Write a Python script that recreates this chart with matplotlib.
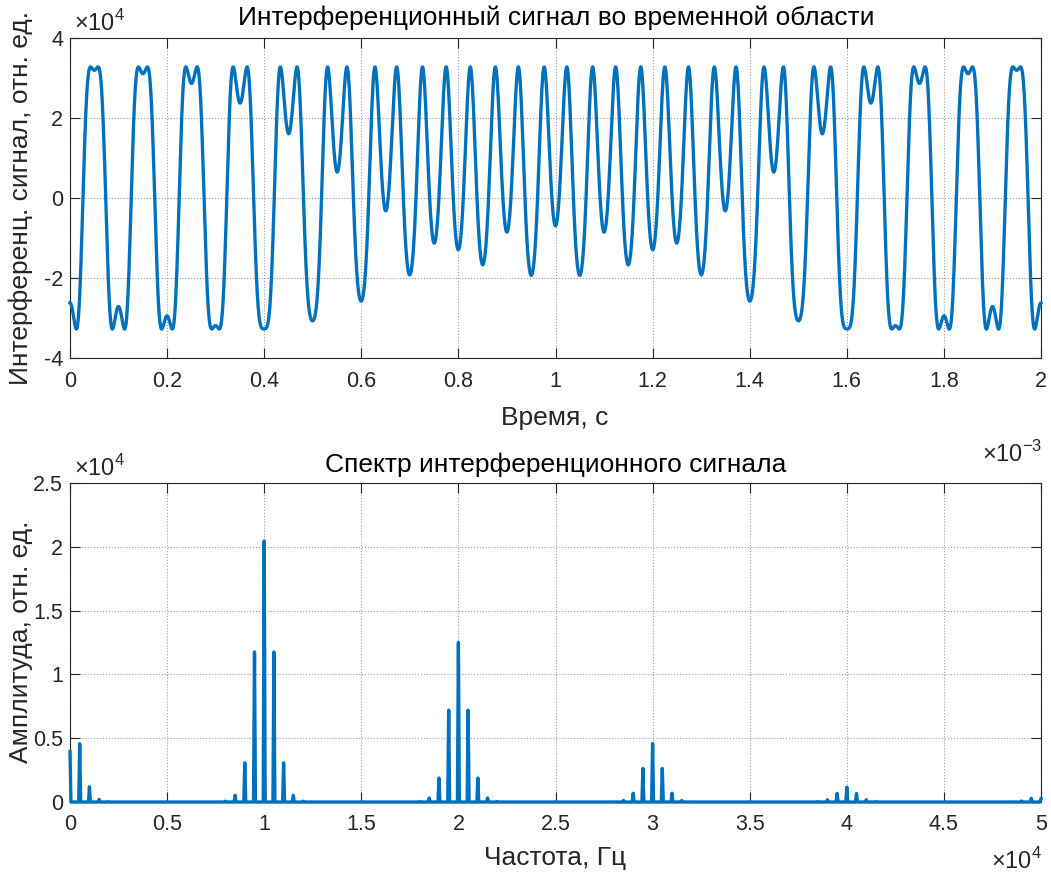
import numpy as np
import matplotlib
matplotlib.use("Agg")
import matplotlib.pyplot as plt
from matplotlib.ticker import FuncFormatter

plt.rcParams['font.family'] = ['Liberation Sans', 'DejaVu Sans']
plt.rcParams['mathtext.fontset'] = 'custom'
plt.rcParams['mathtext.rm'] = 'Liberation Sans'

# signal parameters (peak level, harmonic spacing, sidebands)
amp = 32767          # peak value, отн. ед.
f_carrier = 1e4      # Гц, spacing of harmonic groups
depth_carrier = 2.0  # rad
f_slow = 500         # Гц, sideband spacing
depth_slow = 1.0     # rad
phase0 = np.pi / 4

fs = 1e5             # sampling rate, spectrum ends at fs/2
t_view = 2e-3        # shown part of the record, s
t_spec = 20e-3       # record used for the spectrum, s

time_ticks = [0, 0.2e-3, 0.4e-3, 0.6e-3, 0.8e-3, 1.0e-3, 1.2e-3, 1.4e-3, 1.6e-3, 1.8e-3, 2.0e-3]
sig_ticks = [-4e4, -2e4, 0, 2e4, 4e4]
freq_ticks = [0, 5e3, 1e4, 1.5e4, 2e4, 2.5e4, 3e4, 3.5e4, 4e4, 4.5e4, 5e4]
amp_ticks = [0, 0.5e4, 1e4, 1.5e4, 2e4, 2.5e4]

title_top = "Интерференционный сигнал во временной области"
title_bottom = "Спектр интерференционного сигнала"
xlabel_top = "Время, с"
ylabel_top = "Интерференц. сигнал, отн. ед."
xlabel_bottom = "Частота, Гц"
ylabel_bottom = "Амплитуда, отн. ед."


def signal(t):
    return amp * np.cos(depth_carrier * np.cos(2 * np.pi * f_carrier * t)
                        + depth_slow * np.cos(2 * np.pi * f_slow * t) + phase0)


t = np.linspace(0, t_view, 4001)
s = signal(t)

n = int(round(fs * t_spec))
x = signal(np.arange(n) / fs)
spec = np.abs(np.fft.fft(x)) / n
spec = spec[:n // 2 + 1]
spec[1:-1] *= 2
freq = fs * np.arange(n // 2 + 1) / n

W, H = 1051, 877
line_color = '#0072BD'
ax_color = '#262626'
TICK = 15.5
LAB = 19
TITLE = 19


def style(ax):
    ax.tick_params(direction='in', top=True, right=True, length=7,
                   width=0.8, labelsize=TICK, colors=ax_color)
    ax.tick_params(axis='x', pad=9)
    ax.tick_params(axis='y', pad=5)
    for sp in ax.spines.values():
        sp.set_color(ax_color)
        sp.set_linewidth(0.8)
    ax.grid(True, linestyle=':', color='#9a9a9a', linewidth=0.8)
    ax.set_axisbelow(True)


def ftext(x, y, txt, **kw):
    # position in pixels from the top-left corner
    return fig.text(x / W, 1 - y / H, txt, **kw)


fig = plt.figure(figsize=(W / 100, H / 100), dpi=100)
ax1 = fig.add_axes([70 / W, 1 - 358 / H, 971 / W, 320 / H])
ax2 = fig.add_axes([70 / W, 1 - 802 / H, 971 / W, 319 / H])

ax1.plot(t, s, color=line_color, lw=2.4, clip_on=False, zorder=3)
ax1.set_xlim(0, t_view)
ax1.set_ylim(-4e4, 4e4)
ax1.set_xticks(time_ticks)
ax1.set_yticks(sig_ticks)
ax1.xaxis.set_major_formatter(FuncFormatter(lambda v, p: f'{v * 1e3:g}'))
ax1.yaxis.set_major_formatter(FuncFormatter(lambda v, p: f'{v / 1e4:g}'))
style(ax1)

ax2.plot(freq, spec, color=line_color, lw=2.4, clip_on=False, zorder=3)
ax2.set_xlim(0, fs / 2)
ax2.set_ylim(0, 2.5e4)
ax2.set_xticks(freq_ticks)
ax2.set_yticks(amp_ticks)
ax2.xaxis.set_major_formatter(FuncFormatter(lambda v, p: f'{v / 1e4:g}'))
ax2.yaxis.set_major_formatter(FuncFormatter(lambda v, p: f'{v / 1e4:g}'))
style(ax2)

ftext(556, 18, title_top, fontsize=TITLE, color='black', ha='center', va='center')
ftext(556, 465, title_bottom, fontsize=TITLE, color='black', ha='center', va='center')
ftext(555, 418, xlabel_top, fontsize=LAB, color=ax_color, ha='center', va='center')
ftext(555, 858, xlabel_bottom, fontsize=LAB, color=ax_color, ha='center', va='center')
ftext(21, 198, ylabel_top, fontsize=LAB, color=ax_color, ha='center', va='center', rotation=90)
ftext(21, 642, ylabel_bottom, fontsize=LAB, color=ax_color, ha='center', va='center', rotation=90)

ftext(74, 31, r'$\times10^{4}$', fontsize=17, color=ax_color, ha='left', va='baseline')
ftext(74, 476, r'$\times10^{4}$', fontsize=17, color=ax_color, ha='left', va='baseline')
ftext(1042, 462, r'$\times10^{-3}$', fontsize=17, color=ax_color, ha='right', va='baseline')
ftext(1042, 869, r'$\times10^{4}$', fontsize=17, color=ax_color, ha='right', va='baseline')

fig.savefig('out.png', dpi=100)
